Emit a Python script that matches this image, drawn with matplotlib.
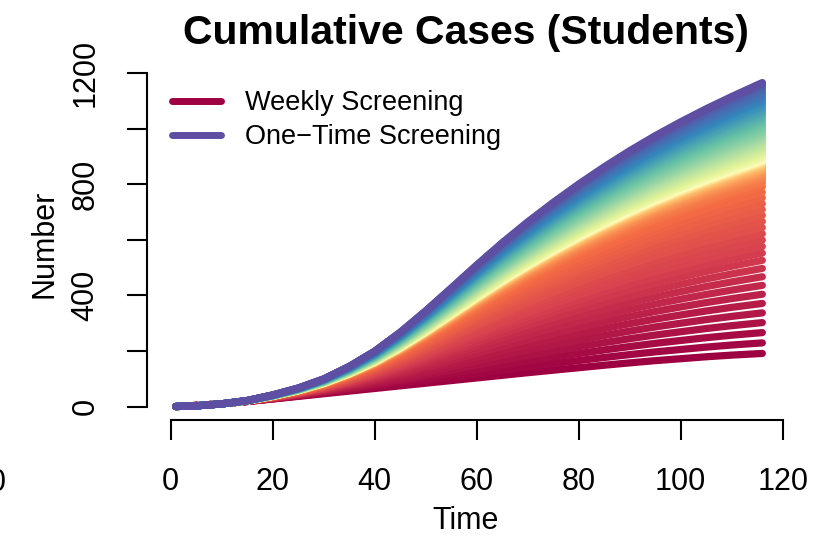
import numpy as np
import matplotlib
matplotlib.use('Agg')
import matplotlib.pyplot as plt
from matplotlib.lines import Line2D

plt.rcParams['font.family'] = ['Liberation Sans', 'DejaVu Sans']

# ---- data ----
time = [1, 5, 10, 15, 20, 25, 30, 35, 40, 45, 50, 55, 60, 65, 70, 75, 80,
        85, 90, 95, 100, 105, 110, 115, 116]
one_time = [0, 2.4, 9.4, 21.4, 41.4, 66.4, 99.4, 144.4, 199.4, 267.4, 344.4,
            426.4, 509.4, 589.4, 664.4, 734.4, 800.4, 862.4, 920.4, 974.4,
            1024.4, 1071.4, 1115.4, 1157.4, 1165.6]
weekly = [0, 4, 10, 18, 27, 36.5, 46, 55.5, 65, 74.5, 84, 93.5, 103, 112.5,
          122, 131, 140, 149, 157.5, 165.5, 172.5, 179.5, 185.5, 190.5, 191.5]
final_cases = [
    191, 229, 266, 302, 337, 371, 404, 436, 467, 497,
    526, 552, 576, 599, 622, 644, 666, 688, 709, 730,
    751, 771, 791, 803, 813, 821, 828, 834, 839, 844,
    848, 852, 855, 858, 861, 864, 866, 868, 870, 871.5,
    873, 874.5, 876, 877, 878, 879, 880, 881, 882, 883,
    884, 885, 886, 887, 888, 889, 890, 891, 892, 893,
    895, 897, 899, 902, 905, 908, 912, 916, 920, 925,
    930, 935, 940, 945, 950, 955, 960, 965, 970, 975,
    980, 986, 992, 998, 1004, 1010, 1016, 1022, 1029, 1036,
    1043, 1050, 1057, 1064, 1071, 1078, 1085, 1092, 1099, 1106,
    1113, 1120, 1127, 1134, 1141, 1148, 1154, 1159, 1163, 1166]
x_ticks = [0, 20, 40, 60, 80, 100, 120]
y_ticks = [0, 200, 400, 600, 800, 1000, 1200]
y_ticklabels = ['0', '', '400', '', '800', '', '1200']
legend_labels = ['Weekly Screening', 'One\u2212Time Screening']
title = 'Cumulative Cases (Students)'

W, H = 827, 542
fig = plt.figure(figsize=(W / 100, H / 100), dpi=100)
ax = fig.add_axes([147 / W, 1 - 419.5 / H, (786 - 147) / W, (419.5 - 69) / H])

t = np.array(time, dtype=float)
top = np.array(one_time, dtype=float)
bot = np.array(weekly, dtype=float)
cmap = plt.get_cmap('Spectral')
n = len(final_cases)
for i, fc in enumerate(final_cases):
    w = (fc - bot[-1]) / (top[-1] - bot[-1])
    y = bot + w * (top - bot)
    ax.plot(t, y, color=cmap(i / (n - 1)), lw=5.2,
            solid_capstyle='round', solid_joinstyle='round')

xr = 116 - 0
ax.set_xlim(0 - 0.04 * xr, 116 + 0.04 * xr)
yr = 1168
ax.set_ylim(-0.04 * yr, yr * 1.04)

for s in ['top', 'right']:
    ax.spines[s].set_visible(False)
ax.spines['left'].set_bounds(0, 1200)
ax.spines['bottom'].set_bounds(0, 120)
for s in ['left', 'bottom']:
    ax.spines[s].set_linewidth(1.5)

ax.set_xticks(x_ticks)
ax.set_xticklabels([str(v) for v in x_ticks])
ax.set_yticks(y_ticks)
ax.set_yticklabels(y_ticklabels, rotation=90, va='center')
ax.tick_params(axis='both', direction='out', length=14.4, width=1.5,
               labelsize=22, colors='black')
ax.tick_params(axis='x', pad=20)
ax.tick_params(axis='y', pad=19)

ax.set_xlabel('Time', fontsize=22)
ax.xaxis.set_label_coords((466 - 147) / (786 - 147), (419.5 - 521) / 350.5)
ax.xaxis.label.set_va('center')
ax.set_ylabel('Number', fontsize=22)
ax.yaxis.set_label_coords((45 - 147) / (786 - 147), (419.5 - 244) / 350.5)
ax.yaxis.label.set_va('center')

fig.text(466 / W, 1 - 44 / H, title, ha='center', va='baseline',
         fontsize=29.5, fontweight='bold')

handles = [Line2D([0], [0], color=cmap(0.0), lw=5, solid_capstyle='round'),
           Line2D([0], [0], color=cmap(1.0), lw=5, solid_capstyle='round')]
leg = ax.legend(handles, legend_labels, loc='upper left',
                bbox_to_anchor=(172 / W, 1 - 90.5 / H), bbox_transform=fig.transFigure,
                frameon=False, fontsize=19.5, handlelength=1.8,
                handletextpad=0.9, labelspacing=0.28, borderpad=0,
                borderaxespad=0)

fig.text(7 / W, 1 - 483 / H, '120', ha='right', va='center', fontsize=22)

fig.savefig('out.png', dpi=100)
